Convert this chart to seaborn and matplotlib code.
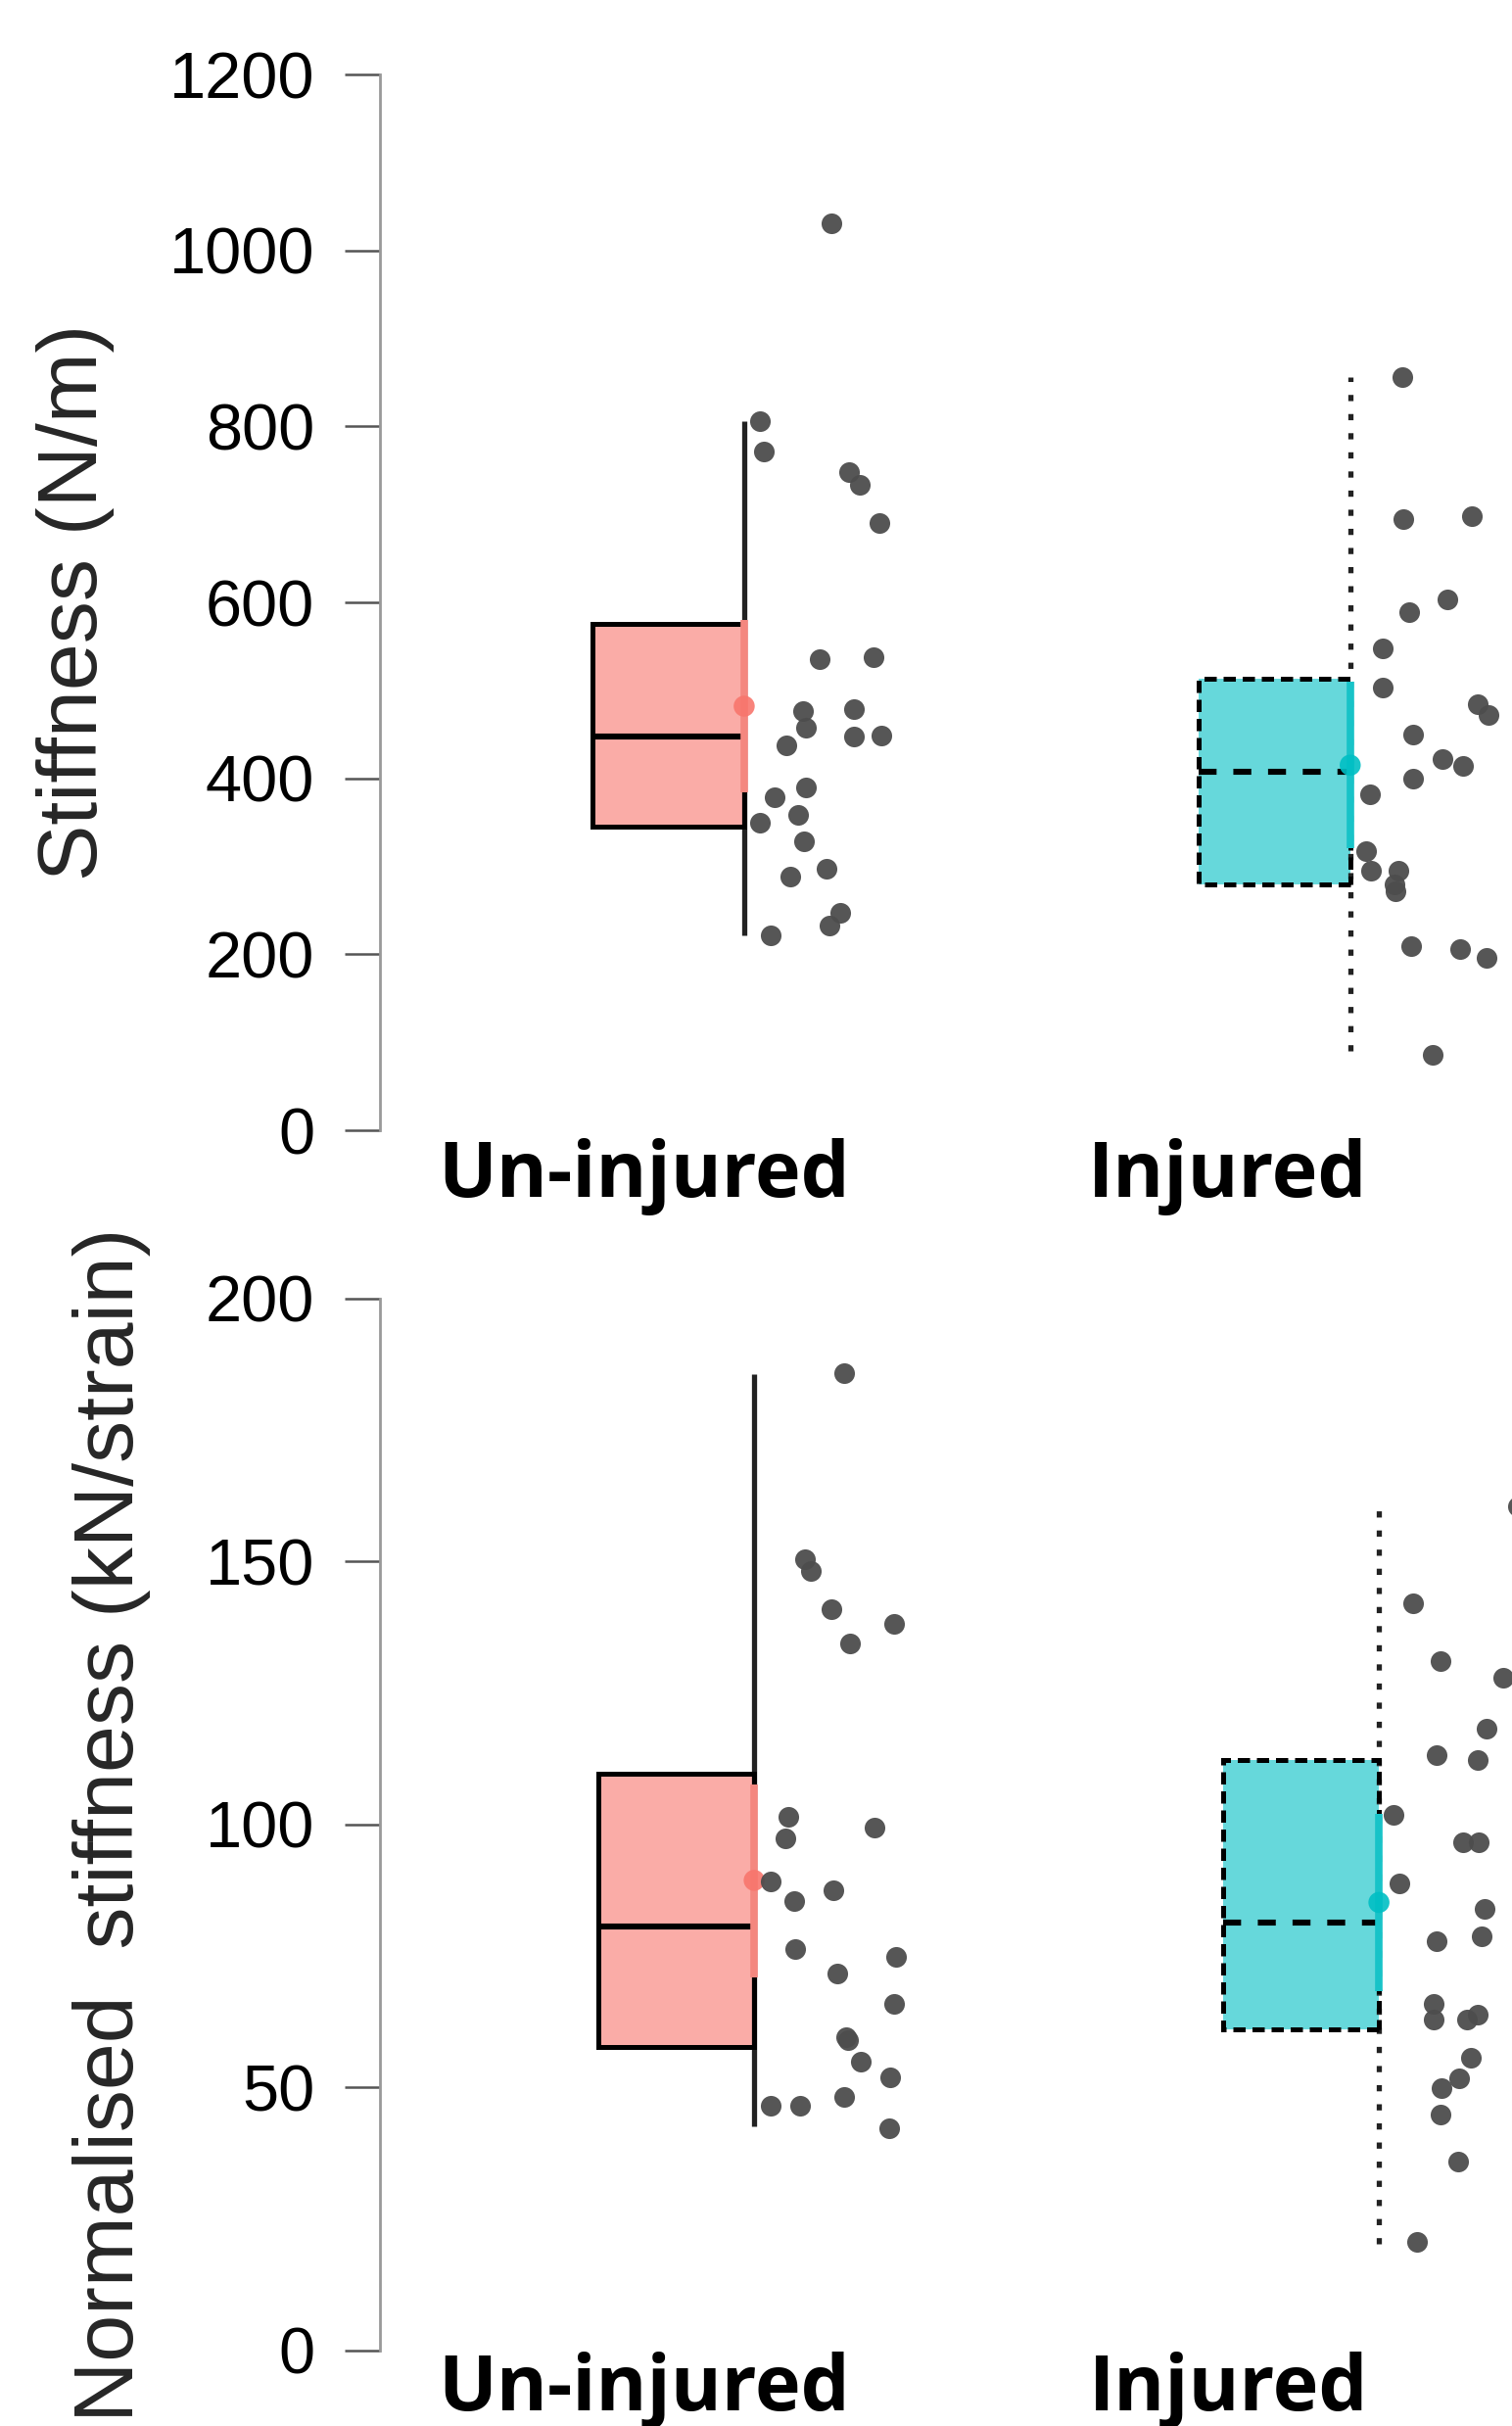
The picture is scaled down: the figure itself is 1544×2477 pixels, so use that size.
#Half boxplots with jittered points: stiffness of un-injured vs injured tissue

#import libraries
import numpy as np
import pandas as pd
import matplotlib
matplotlib.use("Agg")
import matplotlib.pyplot as plt
import seaborn as sns

groups = ["Un-injured", "Injured"]
fills = ["#F8766D", "#00BFC4"]
seg_cols = ["#F4877F", "#18C3C8"]

#---- Stiffness (N/m) ----
stiff_uninj = [1031, 806, 772, 748, 734, 690, 535, 538, 477, 479, 457, 447,
               449, 438, 390, 378, 358, 350, 328, 297, 288, 247, 233, 222]
stiff_uninj_jit = [0.144, 0.026, 0.032, 0.173, 0.191, 0.223, 0.124, 0.213, 0.097, 0.181, 0.102, 0.181,
                   0.226, 0.069, 0.102, 0.050, 0.089, 0.026, 0.099, 0.136, 0.076, 0.158, 0.141, 0.044]
stiff_inj = [856, 695, 698, 603, 589, 548, 503, 484, 472, 450, 422, 414,
             400, 382, 317, 295, 295, 279, 272, 209, 206, 196, 86]
stiff_inj_jit = [0.086, 0.087, 0.200, 0.160, 0.097, 0.053, 0.053, 0.210, 0.229, 0.103, 0.152, 0.186,
                 0.103, 0.032, 0.026, 0.034, 0.079, 0.073, 0.074, 0.100, 0.181, 0.225, 0.136]
stiff_q1 = [345, 280]
stiff_med = [447, 407]
stiff_q3 = [575, 513]
stiff_lo = [222, 90]
stiff_hi = [806, 856]
stiff_mean = [482, 415]
stiff_mean_lo = [384, 321]
stiff_mean_hi = [580, 510]

#---- Normalised stiffness (kN/strain) ----
norm_uninj = [185.9, 150.4, 148.3, 141.0, 138.2, 134.5, 101.5, 99.4, 97.4, 89.1, 87.5, 85.5,
              76.4, 74.9, 71.6, 66.0, 59.1, 59.5, 55.0, 51.9, 48.2, 46.5, 46.5, 42.3]
norm_uninj_jit = [0.144, 0.082, 0.091, 0.124, 0.224, 0.154, 0.055, 0.193, 0.050, 0.027, 0.127, 0.064,
                  0.066, 0.227, 0.133, 0.224, 0.150, 0.147, 0.171, 0.218, 0.144, 0.027, 0.074, 0.216]
norm_inj = [160.5, 142.0, 131.0, 127.9, 118.2, 113.2, 112.2, 101.9, 96.6, 96.7, 88.8, 84.0,
            78.8, 77.9, 66.0, 62.9, 63.0, 63.8, 55.6, 51.8, 49.9, 44.8, 35.9, 20.6]
norm_inj_jit = [0.223, 0.055, 0.099, 0.199, 0.172, 0.092, 0.158, 0.024, 0.135, 0.160, 0.033, 0.169,
                0.165, 0.092, 0.088, 0.088, 0.141, 0.158, 0.147, 0.129, 0.100, 0.099, 0.127, 0.061]
norm_q1 = [57.8, 61.1]
norm_med = [80.7, 81.4]
norm_q3 = [109.7, 112.2]
norm_lo = [42.6, 20.3]
norm_hi = [185.7, 160.2]
norm_mean = [89.4, 85.2]
norm_mean_lo = [70.9, 68.4]
norm_mean_hi = [107.7, 102.1]

sns.set_style("white")
plt.rcParams['font.family'] = ['Liberation Sans', 'DejaVu Sans']

box_w = 0.25
ls_box = ["-", (0, (2.5, 1.4))]
ls_whisk = ["-", (0, (1.2, 2.5))]
ls_med = ["-", (0, (3.0, 2.8))]


def draw_panel(ax, vals, jits, q1, med, q3, lo, hi, mean, mlo, mhi,
               ymax, yticks, ylabel, xlim, label_x, xpad):
    rows = []
    for i, g in enumerate(groups):
        for v, j in zip(vals[i], jits[i]):
            rows.append({"group": g, "value": v, "x": i + j})
    df = pd.DataFrame(rows)

    for i in range(2):
        #half box sitting left of the whisker
        ax.bar(i, q3[i] - q1[i], bottom=q1[i], width=-box_w, align="edge",
               color=fills[i], alpha=0.6, linewidth=0, zorder=1)
        ax.vlines(i, lo[i], hi[i], color="#222222", lw=3.8,
                  linestyles=[ls_whisk[i]], zorder=2)
        ax.bar(i, q3[i] - q1[i], bottom=q1[i], width=-box_w, align="edge",
               fill=False, edgecolor="black", linewidth=3.6, linestyle=ls_box[i], zorder=3)
        ax.hlines(med[i], i - box_w, i, color="black", lw=4.4,
                  linestyles=[ls_med[i]], zorder=4)
        ax.vlines(i, mlo[i], mhi[i], color=seg_cols[i], lw=5.5, zorder=5)

    sns.scatterplot(x=[0, 1], y=mean, hue=groups, palette=fills, s=240,
                    linewidth=0, alpha=0.9, legend=False, ax=ax, zorder=6)
    sns.scatterplot(data=df, x="x", y="value", color="#4d4d4d", s=230,
                    linewidth=0, alpha=0.95, legend=False, ax=ax, zorder=7)

    ax.set_xlim(*xlim)
    ax.set_ylim(0, ymax)
    ax.set_yticks(yticks)
    ax.set_xticks(label_x)
    ax.set_xticklabels(groups, family="Open Sans", weight="bold", fontsize=57, color="black")
    ax.set_xlabel("")
    ax.set_ylabel(ylabel, fontsize=62, labelpad=40)
    sns.despine(ax=ax, top=True, right=True, bottom=True)
    ax.spines["left"].set_bounds(0, ymax)
    ax.spines["left"].set_color("#999999")
    ax.spines["left"].set_linewidth(2)
    ax.tick_params(axis="y", left=True, length=26, width=1.8, color="#555555", pad=22,
                   labelsize=48, labelcolor="black")
    ax.tick_params(axis="x", bottom=False, length=0, pad=xpad)


fig = plt.figure(figsize=(15.44, 24.77), dpi=100)
ax1 = fig.add_axes([0.2513, 0.5341, 0.7487, 0.4352])
ax2 = fig.add_axes([0.2513, 0.0311, 0.7487, 0.4336])

draw_panel(ax1, [stiff_uninj, stiff_inj], [stiff_uninj_jit, stiff_inj_jit],
           stiff_q1, stiff_med, stiff_q3, stiff_lo, stiff_hi,
           stiff_mean, stiff_mean_lo, stiff_mean_hi,
           1200, np.arange(0, 1201, 200), "Stiffness (N/m)",
           (-0.601, 1.267), [-0.166, 0.798], 6)
draw_panel(ax2, [norm_uninj, norm_inj], [norm_uninj_jit, norm_inj_jit],
           norm_q1, norm_med, norm_q3, norm_lo, norm_hi,
           norm_mean, norm_mean_lo, norm_mean_hi,
           200, np.arange(0, 201, 50), "Normalised  stiffness (kN/strain)",
           (-0.599, 1.213), [-0.177, 0.759], 1)

fig.savefig("out.png", dpi=100)
